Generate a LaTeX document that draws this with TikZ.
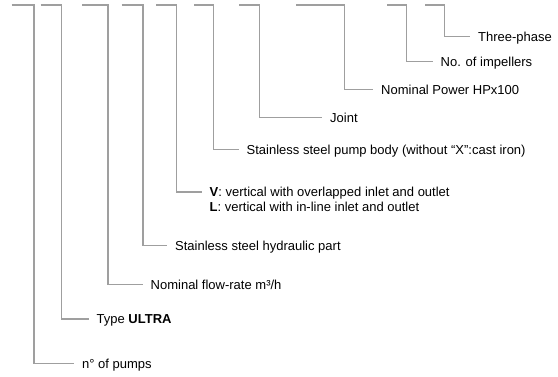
\documentclass[tikz,border=0pt]{standalone}
\usepackage{fontspec}
\setmainfont{Liberation Sans}
\begin{document}
\begin{tikzpicture}[
  x=1pt, y=-1pt,
  conn/.style={draw=gray!75, line width=1.1pt},
  lbl/.style={anchor=west, inner xsep=8pt, inner ysep=0pt, text height=9.3pt, text depth=0pt, font=\fontsize{13}{15}\selectfont},
  lbltwo/.style={anchor=north west, inner xsep=8pt, inner ysep=0pt, align=left, font=\fontsize{13}{15}\selectfont}
]
\useasboundingbox (0,0) rectangle (558,376);

% free ends of the code letters along the top
\coordinate (t1) at (11.7,5);
\coordinate (t2) at (40.7,5);
\coordinate (t3) at (82.3,5);
\coordinate (t4) at (121.7,5);
\coordinate (t5) at (156,5);
\coordinate (t6) at (194.3,5);
\coordinate (t7) at (239,5);
\coordinate (t8) at (296,5);
\coordinate (t9) at (387.3,5);
\coordinate (t10) at (425,5);

% corners
\coordinate (c1) at (34,363.5);
\coordinate (c2) at (61.5,319);
\coordinate (c3) at (108,284.5);
\coordinate (c4) at (143,245.5);
\coordinate (c5) at (176.5,192);
\coordinate (c6) at (213.5,149.5);
\coordinate (c7) at (259.5,117.5);
\coordinate (c8) at (344.5,89.5);
\coordinate (c9) at (406.5,61.7);
\coordinate (c10) at (444.5,36.7);

% labels
\node[lbl] (pumps) at (74,363.5) {n° of pumps};
\node[lbl] (type) at (88.5,319) {Type \textbf{ULTRA}};
\node[lbl] (flow) at (142.5,284.5) {Nominal flow-rate m³/h};
\node[lbl] (hydr) at (167,245.5) {Stainless steel hydraulic part};
\node[lbltwo] (vert) at (201.5,187.2) {\textbf{V}: vertical with overlapped inlet and outlet\\\textbf{L}: vertical with in-line inlet and outlet};
\node[lbl] (body) at (238.5,149.5) {Stainless steel pump body (without “X”:cast iron)};
\node[lbl] (joint) at (322,117.5) {Joint};
\node[lbl] (power) at (373,89.5) {Nominal Power HPx100};
\node[lbl] (imp) at (432.5,61.7) {No. of impellers};
\node[lbl] (phase) at (470,36.7) {Three-phase};

\draw[conn] (t1) -| (c1) -- (pumps.west);
\draw[conn] (t2) -| (c2) -- (type.west);
\draw[conn] (t3) -| (c3) -- (flow.west);
\draw[conn] (t4) -| (c4) -- (hydr.west);
\draw[conn] (t5) -| (c5) -- (c5 -| vert.west);
\draw[conn] (t6) -| (c6) -- (body.west);
\draw[conn] (t7) -| (c7) -- (joint.west);
\draw[conn] (t8) -| (c8) -- (power.west);
\draw[conn] (t9) -| (c9) -- (imp.west);
\draw[conn] (t10) -| (c10) -- (phase.west);
\end{tikzpicture}
\end{document}
